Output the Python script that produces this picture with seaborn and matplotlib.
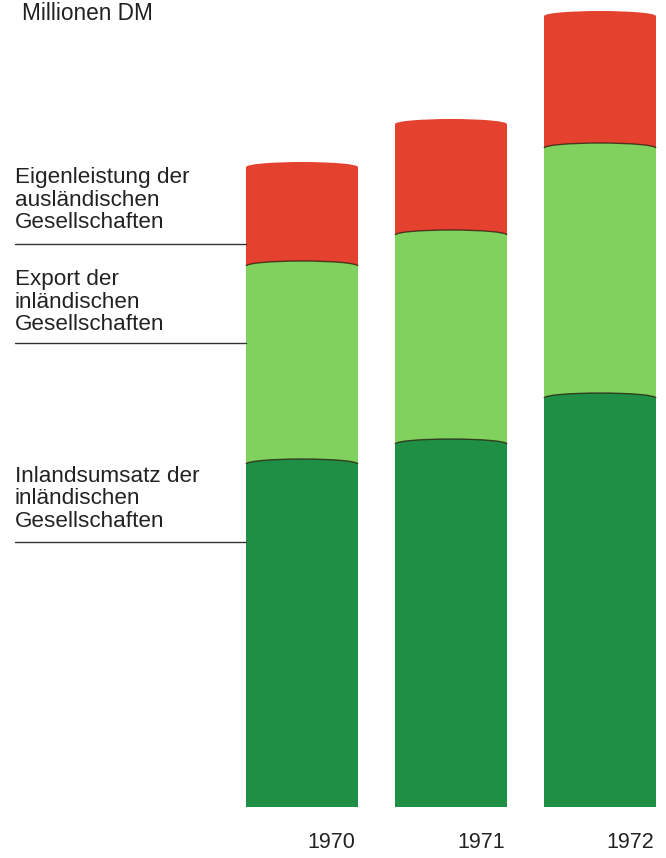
import matplotlib
matplotlib.use("Agg")
import matplotlib.pyplot as plt
from matplotlib.patches import Ellipse, Arc
from matplotlib.lines import Line2D
import seaborn as sns
import pandas as pd
import numpy as np

# ---- data (heights, arbitrary units of Millionen DM) ----
years = ["1970", "1971", "1972"]
inlandsumsatz = [343, 363, 409]   # Inlandsumsatz der inländischen Gesellschaften
export = [198, 209, 250]          # Export der inländischen Gesellschaften
eigenleistung = [99, 111, 132]    # Eigenleistung der ausländischen Gesellschaften

series_labels = [
    ["Inlandsumsatz der", "inländischen", "Gesellschaften"],
    ["Export der", "inländischen", "Gesellschaften"],
    ["Eigenleistung der", "ausländischen", "Gesellschaften"],
]
colors = ["#1f8f46", "#80d15e", "#e4412f"]
unit_label = "Millionen DM"

sns.set_theme(style="white")
plt.rcParams["font.family"] = ["Liberation Sans", "DejaVu Sans"]

W, H = 666, 858
fig = plt.figure(figsize=(W / 100, H / 100), dpi=100)
fig.patch.set_facecolor("white")

def fx(px):
    return px / W

def fy(py):
    return 1 - py / H

bottom_px = 807
ax = fig.add_axes([fx(227.5), fy(bottom_px), 447 / W, bottom_px / H])
ax.set_facecolor("none")

df = pd.DataFrame({"year": years, "inl": inlandsumsatz, "exp": export, "eig": eigenleistung})
df["c1"] = df["inl"]
df["c2"] = df["inl"] + df["exp"]
df["c3"] = df["c2"] + df["eig"]

bw = 0.75
# draw cumulative totals from the top layer down
for col, c in zip(["c3", "c2", "c1"], [colors[2], colors[1], colors[0]]):
    sns.barplot(data=df, x="year", y=col, color=c, width=bw, ax=ax,
                saturation=1, linewidth=0, errorbar=None, zorder=2)

ax.set_xlim(-0.5, 2.5)
ax.set_ylim(0, bottom_px)
ax.axis("off")

# cylinder caps at each boundary
eh = 10
for i in range(len(years)):
    levels = [df["c1"][i], df["c2"][i], df["c3"][i]]
    for k, lv in enumerate(levels):
        e = Ellipse((i, lv), width=bw, height=eh, facecolor=colors[k],
                    edgecolor="none", zorder=3 + k, clip_on=False)
        ax.add_patch(e)
        if k < 2:
            a = Arc((i, lv), width=bw, height=eh, theta1=0, theta2=180,
                    color="#2a1a10", lw=1.0, alpha=0.75, zorder=3 + k + 0.5)
            ax.add_patch(a)

# year labels
for i, y in enumerate(years):
    ax.text(i + 0.2, -36, y, ha="center", va="center", fontsize=15.5,
            color="#222222", clip_on=False)

# unit label
fig.text(fx(22), fy(14), unit_label, ha="left", va="center", fontsize=16.3,
         color="#222222")

# series labels with leader lines
label_baselines = [482, 285, 183]
line_y = [542, 343, 244]
for lines, base, ly in zip(series_labels, label_baselines, line_y):
    for j, t in enumerate(lines):
        fig.text(fx(15), fy(base + j * 22.5), t, ha="left", va="baseline",
                 fontsize=16.2, color="#222222")
    fig.add_artist(Line2D([fx(15), fx(246)], [fy(ly), fy(ly)],
                          color="#333333", lw=1.0))

fig.savefig("out.png", dpi=100, facecolor="white")
